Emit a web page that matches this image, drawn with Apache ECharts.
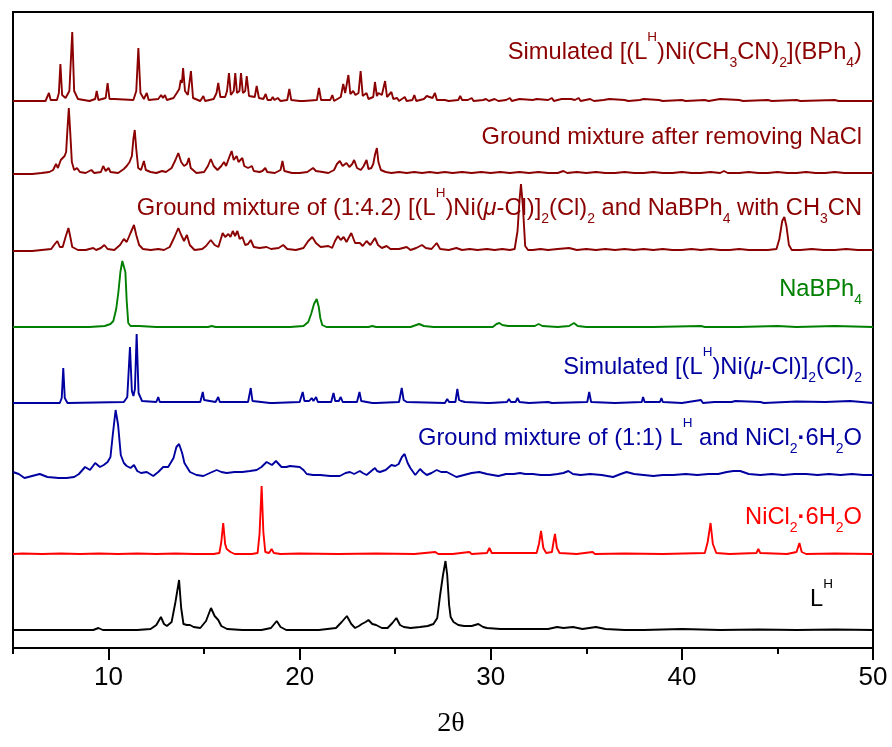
<!DOCTYPE html>
<html>
<head>
<meta charset="utf-8">
<script src="https://cdn.jsdelivr.net/npm/echarts@6/dist/echarts.min.js"></script>
<style>
  html, body { margin: 0; padding: 0; background: #fff; }
  #chart { width: 892px; height: 747px; }
</style>
</head>
<body>
<div id="chart"></div>
<script>
// Powder XRD patterns, [2θ, relative intensity] vertices of each trace, stacked.

// Simulated [(L^H)Ni(CH3CN)2](BPh4)
const simBPh4 = [[5,0],[6.7,0],[6.8,2],[6.88,8],[6.97,1],[7.3,1],[7.4,8],[7.48,37],[7.57,6],[7.75,3],[7.95,10],[8.1,69],[8.2,10],[8.4,2],[9.0,0],[9.3,2],[9.38,10],[9.47,1],[9.85,3],[9.95,18],[10.05,2],[10.3,2],[10.4,0],[11.3,1],[11.45,10],[11.56,53],[11.67,8],[11.85,2],[12.0,8],[12.1,1],[12.6,2],[12.75,6],[12.85,3],[12.95,6],[13.05,1],[13.4,3],[13.57,8],[13.7,12],[13.78,21],[13.84,18],[13.9,33],[14.0,10],[14.15,6],[14.31,30],[14.42,3],[14.8,0],[14.96,5],[15.05,0],[15.5,2],[15.65,8],[15.74,18],[15.85,4],[16.1,4],[16.2,10],[16.3,28],[16.4,6],[16.55,10],[16.63,28],[16.72,8],[16.85,10],[16.93,28],[17.03,8],[17.15,10],[17.23,25],[17.35,5],[17.65,4],[17.75,15],[17.87,3],[18.1,2],[18.22,7],[18.32,1],[18.5,1],[18.59,4],[18.68,1],[18.85,3],[19.0,0],[19.35,1],[19.46,12],[19.56,1],[20.0,0],[20.07,2],[20.2,0],[20.9,1],[21.01,13],[21.12,1],[21.6,1],[21.71,6],[21.8,0],[22.15,4],[22.28,17],[22.38,8],[22.45,10],[22.55,26],[22.65,7],[22.8,10],[22.92,6],[23.08,8],[23.19,30],[23.3,5],[23.5,8],[23.6,2],[23.85,4],[23.94,19],[24.04,5],[24.12,8],[24.2,10],[24.3,6],[24.47,20],[24.57,4],[24.8,9],[24.9,2],[25.1,3],[25.2,0],[25.5,4],[25.6,0],[25.9,1],[26.0,6],[26.1,0],[26.5,2],[26.65,5],[26.75,3],[26.95,3],[27.08,8],[27.18,1],[27.6,1],[27.7,3],[27.8,0],[28.3,1],[28.4,5],[28.5,1],[28.8,1],[29.0,3],[29.1,0],[29.6,1],[29.75,2],[29.9,0],[30.2,2],[30.4,0],[30.8,1],[31.0,3],[31.1,0],[31.5,2],[31.6,0],[32.2,1],[32.4,2],[32.5,0],[33.0,1],[33.2,3],[33.3,0],[33.7,2],[33.8,0],[34.2,2],[34.3,4],[34.4,1],[34.6,3],[34.7,0],[35.2,2],[35.4,0],[35.9,1],[36.2,2],[36.3,0],[37.0,1],[37.2,0],[37.8,1],[38.0,2],[38.1,0],[38.8,1],[39.0,0],[40.0,1],[40.2,0],[41.2,1],[41.4,0],[42.0,2],[42.1,0],[43.0,1],[43.2,0],[44.5,1],[44.7,0],[46.0,1],[46.2,0],[48.0,1],[48.2,0],[50,0]];

// Ground mixture after removing NaCl
const groundNoNaCl = [[5,0],[6.0,0],[6.5,1],[6.9,2],[7.1,4],[7.25,10],[7.35,6],[7.5,14],[7.6,12],[7.7,18],[7.78,22],[7.85,45],[7.92,66],[8.0,40],[8.08,12],[8.2,4],[8.35,6],[8.5,2],[8.8,1],[9.1,4],[9.25,1],[9.6,2],[9.72,8],[9.85,3],[10.0,6],[10.1,2],[10.5,1],[10.8,5],[10.95,8],[11.1,12],[11.22,18],[11.3,35],[11.37,44],[11.45,25],[11.55,6],[11.7,4],[11.85,13],[11.95,4],[12.2,2],[12.5,1],[12.8,3],[13.0,2],[13.3,6],[13.5,14],[13.65,21],[13.8,12],[13.95,8],[14.1,10],[14.2,16],[14.3,6],[14.6,1],[15.0,2],[15.2,8],[15.35,15],[15.5,8],[15.7,4],[15.9,8],[16.04,12],[16.15,8],[16.3,16],[16.44,23],[16.55,14],[16.7,18],[16.8,12],[16.9,14],[17.0,16],[17.1,8],[17.3,6],[17.5,8],[17.6,3],[17.9,2],[18.05,3],[18.2,6],[18.3,2],[18.7,1],[19.0,4],[19.1,13],[19.2,3],[19.6,1],[20.0,1],[20.4,2],[20.7,6],[20.85,3],[21.2,2],[21.5,1],[21.8,4],[21.95,10],[22.1,13],[22.25,8],[22.45,11],[22.6,7],[22.75,10],[22.85,14],[23.0,6],[23.2,4],[23.35,8],[23.5,14],[23.6,5],[23.75,6],[23.85,10],[23.95,20],[24.04,26],[24.12,12],[24.25,4],[24.5,2],[24.8,1],[25.2,2],[25.6,1],[26.0,2],[26.4,1],[26.8,2],[27.2,1],[27.6,2],[28.0,1],[28.5,2],[29.0,1],[29.5,2],[30.0,1],[30.5,2],[31.0,1],[31.5,2],[32.0,1],[32.5,2],[33.0,1],[33.5,1],[33.8,3],[34.0,1],[34.5,2],[35.0,1],[35.5,2],[36.0,1],[36.5,1],[37.0,2],[37.5,1],[38.0,1],[38.5,2],[39.0,1],[39.5,1],[40.0,2],[40.5,1],[41.0,1],[41.5,2],[42.0,1],[42.2,3],[42.4,1],[43.0,1],[43.5,2],[44.0,1],[44.5,1],[45.0,2],[45.5,1],[46.0,1],[46.5,2],[47.0,1],[47.5,1],[48.0,2],[48.5,1],[49.0,1],[49.5,1],[50,1]];

// Ground mixture of (1:4.2) [(L^H)Ni(μ-Cl)]2(Cl)2 and NaBPh4 with CH3CN
const ground142 = [[5,0],[6.0,0],[6.5,1],[7.0,2],[7.15,6],[7.32,10],[7.45,4],[7.6,4],[7.75,14],[7.9,23],[8.0,14],[8.1,4],[8.4,1],[8.8,1],[9.0,2],[9.2,3],[9.35,1],[9.6,3],[9.78,6],[9.95,2],[10.3,1],[10.6,6],[10.8,12],[10.95,9],[11.15,18],[11.33,26],[11.45,16],[11.6,6],[11.8,2],[12.2,1],[12.6,2],[12.9,1],[13.2,4],[13.45,14],[13.65,23],[13.8,16],[13.95,10],[14.1,16],[14.25,6],[14.5,1],[14.9,2],[15.1,5],[15.35,11],[15.55,6],[15.75,4],[15.97,18],[16.1,14],[16.27,17],[16.38,14],[16.5,20],[16.62,15],[16.74,20],[16.86,12],[17.0,14],[17.15,6],[17.3,7],[17.44,11],[17.6,4],[17.9,3],[18.27,4],[18.5,2],[18.9,3],[19.14,6],[19.35,2],[19.8,1],[20.2,3],[20.45,10],[20.66,14],[20.85,8],[21.1,4],[21.5,5],[21.7,3],[21.85,10],[22.0,15],[22.15,11],[22.3,14],[22.45,9],[22.7,18],[22.9,8],[23.15,8],[23.3,5],[23.5,10],[23.7,6],[23.94,13],[24.1,6],[24.3,3],[24.55,5],[24.75,2],[25.2,2],[25.6,4],[25.8,1],[26.1,3],[26.4,6],[26.6,3],[26.9,2],[27.17,8],[27.35,2],[27.8,1],[28.2,3],[28.5,1],[28.9,2],[29.3,1],[29.8,2],[30.2,1],[30.6,2],[31.0,1],[31.25,2],[31.4,20],[31.5,50],[31.58,67],[31.68,45],[31.8,5],[31.95,1],[32.2,1],[32.6,2],[33.0,1],[33.5,2],[34.1,3],[34.5,1],[35.0,2],[35.5,1],[36.0,2],[36.5,1],[37.0,2],[37.5,1],[38.0,2],[38.5,1],[39.0,2],[39.5,1],[40.0,1],[40.5,2],[41.0,1],[41.5,2],[42.0,1],[42.5,1],[43.0,2],[43.5,1],[44.0,1],[44.5,1],[44.95,2],[45.1,12],[45.25,30],[45.36,34],[45.47,25],[45.6,6],[45.75,1],[46.2,1],[46.8,2],[47.4,1],[48.0,1],[48.6,2],[49.2,1],[50,1]];

// NaBPh4
const naBPh4 = [[5,0],[9.0,0],[9.8,1],[10.1,3],[10.25,6],[10.4,18],[10.51,34],[10.62,55],[10.72,66],[10.81,68],[10.88,55],[10.95,26],[11.03,4],[11.15,1],[11.6,1],[12.5,0],[15.2,0],[15.4,1],[15.6,0],[19.5,0],[20.2,1],[20.45,5],[20.6,13],[20.75,23],[20.89,28],[21.0,20],[21.08,9],[21.18,2],[21.4,0],[22.0,0],[23.6,0],[23.8,1],[24.0,0],[25.8,0],[26.1,2],[26.25,3],[26.5,1],[27.0,0],[30.1,0],[30.3,3],[30.45,4],[30.6,2],[30.9,1],[31.3,1],[32.3,1],[32.5,3],[32.7,1],[33.5,0],[34.1,1],[34.35,4],[34.55,1],[35.0,0],[36.8,0],[38.5,0],[41.0,1],[41.2,0],[43.0,0],[45.0,1],[46.0,0],[48.0,1],[50,0]];

// Simulated [(L^H)Ni(μ-Cl)]2(Cl)2
const simMuCl = [[5,0],[7.45,0],[7.55,5],[7.63,35],[7.71,5],[7.85,0],[10.8,1],[10.98,6],[11.12,56],[11.22,12],[11.3,7],[11.38,14],[11.47,69],[11.57,10],[11.75,2],[12.5,1],[12.6,6],[12.68,1],[14.8,1],[14.93,11],[15.0,3],[15.1,2],[15.6,1],[15.74,6],[15.82,1],[17.3,1],[17.44,15],[17.53,2],[18.45,0],[18.54,2],[18.62,0],[20.0,1],[20.16,11],[20.25,2],[20.5,2],[20.63,5],[20.72,2],[20.8,3],[20.86,6],[20.95,1],[21.65,1],[21.77,10],[21.86,2],[22.05,2],[22.15,6],[22.25,1],[23.0,1],[23.13,11],[23.22,2],[23.8,0],[23.9,2],[24.0,0],[25.2,1],[25.34,15],[25.44,3],[25.6,1],[27.6,0],[27.72,4],[27.82,1],[28.15,1],[28.25,14],[28.34,3],[28.45,2],[28.55,4],[28.65,1],[29.8,0],[29.88,2],[29.95,0],[30.85,1],[30.95,4],[31.05,1],[31.3,1],[31.4,5],[31.5,1],[32.0,0],[33.0,1],[33.2,0],[35.05,1],[35.15,11],[35.25,1],[36.5,0],[37.9,1],[37.97,6],[38.05,1],[38.85,1],[38.93,5],[39.0,1],[40.0,0],[41.0,3],[41.1,0],[41.7,1],[41.8,2],[41.9,1],[42.4,1],[42.5,3],[42.6,1],[42.8,2],[42.9,0],[44.1,1],[44.18,2],[44.3,0],[46.0,1.5],[46.1,0],[47.5,1],[47.6,0],[48.8,2],[48.9,0],[50,0]];

// Ground mixture of (1:1) L^H and NiCl2·6H2O
const ground11 = [[5,3],[5.3,1],[5.6,-3],[6.0,-1],[6.4,1],[6.8,-2],[7.4,-3],[7.8,-3],[8.2,-2],[8.45,1],[8.77,8],[9.03,5],[9.3,12],[9.55,8],[9.75,10],[9.95,13],[10.1,18],[10.22,40],[10.37,65],[10.5,50],[10.64,20],[10.8,12],[10.95,9],[11.15,7],[11.33,10],[11.5,4],[11.7,2],[12.0,3],[12.34,-1],[12.6,3],[12.86,8],[13.12,8],[13.4,17],[13.55,28],[13.69,31],[13.85,22],[13.97,12],[14.26,3],[14.6,0],[14.96,-1],[15.3,2],[15.66,5],[15.9,3],[16.18,2],[16.6,3],[17.0,3],[17.4,4],[17.75,5],[18.0,8],[18.27,13],[18.55,10],[18.76,14],[19.05,8],[19.3,8],[19.49,9],[20.0,8],[20.2,5],[20.37,1],[20.7,0],[21.07,0],[21.6,-1],[22.1,-1],[22.4,2],[22.63,3],[22.85,1],[23.15,4],[23.3,2],[23.5,0],[23.75,4],[23.94,7],[24.05,4],[24.2,3],[24.5,5],[24.8,10],[25.0,9],[25.18,11],[25.35,18],[25.49,21],[25.65,12],[25.79,7],[26.05,0],[26.3,6],[26.45,3],[26.65,0],[26.9,2],[27.17,5],[27.4,3],[27.7,3],[28.0,0],[28.2,-2],[28.6,0],[29.0,2],[29.4,3],[29.8,1],[30.1,0],[30.4,-1],[30.8,1],[31.2,1],[31.53,2],[31.8,1],[32.2,1],[32.6,0],[33.1,0],[33.5,1],[33.8,2],[34.06,4],[34.3,1],[34.7,0],[35.2,1],[35.8,0],[36.4,-2],[36.8,1],[37.1,3],[37.5,1],[38.0,0],[38.5,-1],[39.0,0],[39.55,0],[40.2,1],[40.8,0],[41.4,1],[41.9,1],[42.35,3],[42.7,4],[43.05,4],[43.5,1],[44.1,0],[44.7,1],[45.3,0],[45.9,1],[46.5,1],[47.1,0],[47.7,1],[48.3,0],[48.9,1],[49.5,0],[50,0]];

// NiCl2·6H2O
const nicl2 = [[5,0],[5.5,0.5],[6.5,0],[7.5,0.5],[8.5,0],[9.5,0.5],[10.5,0],[11.5,0.5],[12.5,0],[13.5,0.5],[14.5,0],[15.5,0],[15.8,1],[15.9,12],[16.0,31],[16.1,10],[16.18,5],[16.27,7],[16.38,2],[16.6,0],[17.5,0],[17.8,1],[17.9,20],[18.01,68],[18.1,22],[18.2,2],[18.4,1],[18.53,5],[18.65,1],[19.0,0],[20.0,0.5],[22.0,0],[24.0,0.5],[26.0,0],[27.1,2],[27.25,0],[28.0,0],[28.88,2],[29.0,0],[29.8,1],[29.93,6],[30.05,1],[30.9,1],[31.0,0],[32.4,1],[32.52,10],[32.63,23],[32.75,6],[32.9,1],[33.2,2],[33.3,14],[33.36,20],[33.46,6],[33.6,1],[34.5,0],[35.33,2],[35.45,0],[37.0,0.5],[39.0,0],[41.2,1],[41.35,12],[41.5,31],[41.62,10],[41.8,1],[42.5,0],[43.9,1],[44.0,5],[44.1,1],[45.5,0],[46.0,2],[46.15,11],[46.27,2],[46.5,0],[48.0,0.5],[50,0]];

// L^H
const lh = [[5,0],[7.0,0],[9.2,0],[9.47,2],[9.7,0],[11.5,0],[12.2,1],[12.5,5],[12.74,13],[12.9,6],[13.05,4],[13.3,8],[13.5,28],[13.69,50],[13.8,22],[13.92,6],[14.1,5],[14.26,5],[14.45,3],[14.8,2],[15.1,9],[15.36,22],[15.55,14],[15.74,10],[15.9,4],[16.2,1],[17.0,0],[18.0,0],[18.5,2],[18.8,9],[19.0,3],[19.3,0],[21.0,0],[21.9,2],[22.2,8],[22.47,14],[22.7,6],[22.9,2],[23.1,4],[23.25,6],[23.45,8],[23.6,10],[23.8,6],[24.0,5],[24.3,2],[24.6,2],[24.85,7],[25.06,12],[25.25,5],[25.45,3],[25.8,2],[26.3,3],[26.7,4],[27.0,6],[27.2,12],[27.35,35],[27.5,55],[27.63,69],[27.72,55],[27.82,25],[27.9,13],[28.05,8],[28.3,5],[28.6,4],[29.0,4],[29.35,6],[29.6,3],[29.8,2],[30.5,1],[31.5,1],[32.5,1],[33.0,1],[33.47,3],[33.8,2],[34.3,3],[34.8,1],[35.5,3],[36.0,1],[37.0,0],[38.0,0],[40.0,1],[42.0,0],[44.0,0.5],[46.0,0],[48.0,0.5],[50,0]];

// Vertical offset of each pattern in the stack (same units as intensity)
const stackOffsets = [547, 474, 397, 321, 245, 173, 94, 18];
const patterns = [simBPh4, groundNoNaCl, ground142, naBPh4, simMuCl, ground11, nicl2, lh];
const patternNames = [
  'Simulated [(LH)Ni(CH3CN)2](BPh4)',
  'Ground mixture after removing NaCl',
  'Ground mixture of (1:4.2) [(LH)Ni(μ-Cl)]2(Cl)2 and NaBPh4 with CH3CN',
  'NaBPh4',
  'Simulated [(LH)Ni(μ-Cl)]2(Cl)2',
  'Ground mixture of (1:1) LH and NiCl2·6H2O',
  'NiCl2·6H2O',
  'LH'
];
// Rich-text labels with super/subscripts
const patternLabels = [
  'Simulated [(L{sup|H})Ni(CH{sub|3}CN){sub|2}](BPh{sub|4})',
  'Ground mixture after removing NaCl',
  'Ground mixture of (1:4.2) [(L{sup|H})Ni({mu|μ}-Cl)]{sub|2}(Cl){sub|2} and NaBPh{sub|4} with CH{sub|3}CN',
  'NaBPh{sub|4}',
  'Simulated [(L{sup|H})Ni({mu|μ}-Cl)]{sub|2}(Cl){sub|2}',
  'Ground mixture of (1:1) L{sup|H} and NiCl{sub|2}{dot|·}6H{sub|2}O',
  'NiCl{sub|2}{dot|·}6H{sub|2}O',
  'L{sup|H}'
];
const majorTicks = [10, 20, 30, 40, 50];

const colors = ['#8b0000', '#8b0000', '#8b0000', '#008000', '#0000a0', '#0000a0', '#ff0000', '#000000'];
// label anchor (right edge x, vertical centre y) in pixels
const labelAnchors = [[862, 52], [862, 137], [862, 208], [862, 289], [862, 367], [862, 438], [862, 517], [833, 599]];

const FONT = "'Liberation Sans', Arial, sans-serif";
const FS = 23.7;

function richFor(color) {
  return {
    sup: { fontFamily: FONT, fontSize: 13.5, fill: color, color: color, height: 11.5, lineHeight: 11.5, verticalAlign: 'top' },
    sub: { fontFamily: FONT, fontSize: 14, fill: color, color: color, height: 17, lineHeight: 17, verticalAlign: 'bottom' },
    mu: { fontFamily: FONT, fontSize: FS, fontStyle: 'italic', fill: color, color: color, lineHeight: 40 },
    dot: { fontFamily: FONT, fontSize: FS, fontWeight: 'bold', fill: color, color: color, lineHeight: 40 }
  };
}

const chart = echarts.init(document.getElementById('chart'), null, { renderer: 'canvas' });

const series = patterns.map((pts, i) => ({
  name: patternNames[i],
  type: 'line',
  xAxisIndex: 0,
  yAxisIndex: 0,
  showSymbol: false,
  symbol: 'none',
  smooth: false,
  clip: true,
  lineStyle: { color: colors[i], width: 1.9 },
  itemStyle: { color: colors[i] },
  data: pts.map(p => [p[0], p[1] + stackOffsets[i]]),
  z: 2
}));

const graphics = patternLabels.map((txt, i) => ({
  type: 'text',
  x: labelAnchors[i][0],
  y: labelAnchors[i][1],
  z: 10,
  style: {
    text: txt,
    fontFamily: FONT,
    fontSize: FS,
    lineHeight: 40,
    fill: colors[i],
    align: 'right',
    textAlign: 'right',
    verticalAlign: 'middle',
    textVerticalAlign: 'middle',
    rich: richFor(colors[i])
  }
}));

chart.setOption({
  animation: false,
  backgroundColor: '#ffffff',
  grid: {
    left: 13, right: 19, top: 12, bottom: 99,
    show: true, borderColor: '#000', borderWidth: 2, backgroundColor: 'transparent'
  },
  xAxis: [
    {
      type: 'value', min: 5, max: 50, interval: 5,
      axisLine: { show: true, onZero: false, lineStyle: { color: '#000', width: 2 } },
      axisTick: { show: true, inside: false, length: 6, lineStyle: { color: '#000', width: 2 } },
      axisLabel: { show: false },
      splitLine: { show: false }
    },
    {
      type: 'value', min: 5, max: 50, position: 'bottom',
      axisLine: { show: false, onZero: false },
      axisTick: { show: true, inside: false, length: 12, customValues: majorTicks, lineStyle: { color: '#000', width: 2 } },
      axisLabel: { show: true, customValues: majorTicks, margin: 17, color: '#000', fontFamily: FONT, fontSize: 26 },
      splitLine: { show: false },
      name: '2θ',
      nameLocation: 'middle',
      nameGap: 62,
      nameTextStyle: { fontFamily: "'Liberation Serif', 'Times New Roman', serif", fontSize: 28, color: '#000', padding: [0, 0, 0, 16] }
    }
  ],
  yAxis: {
    type: 'value', min: 0, max: 636, show: false
  },
  series: series,
  graphic: graphics
});
</script>
</body>
</html>
